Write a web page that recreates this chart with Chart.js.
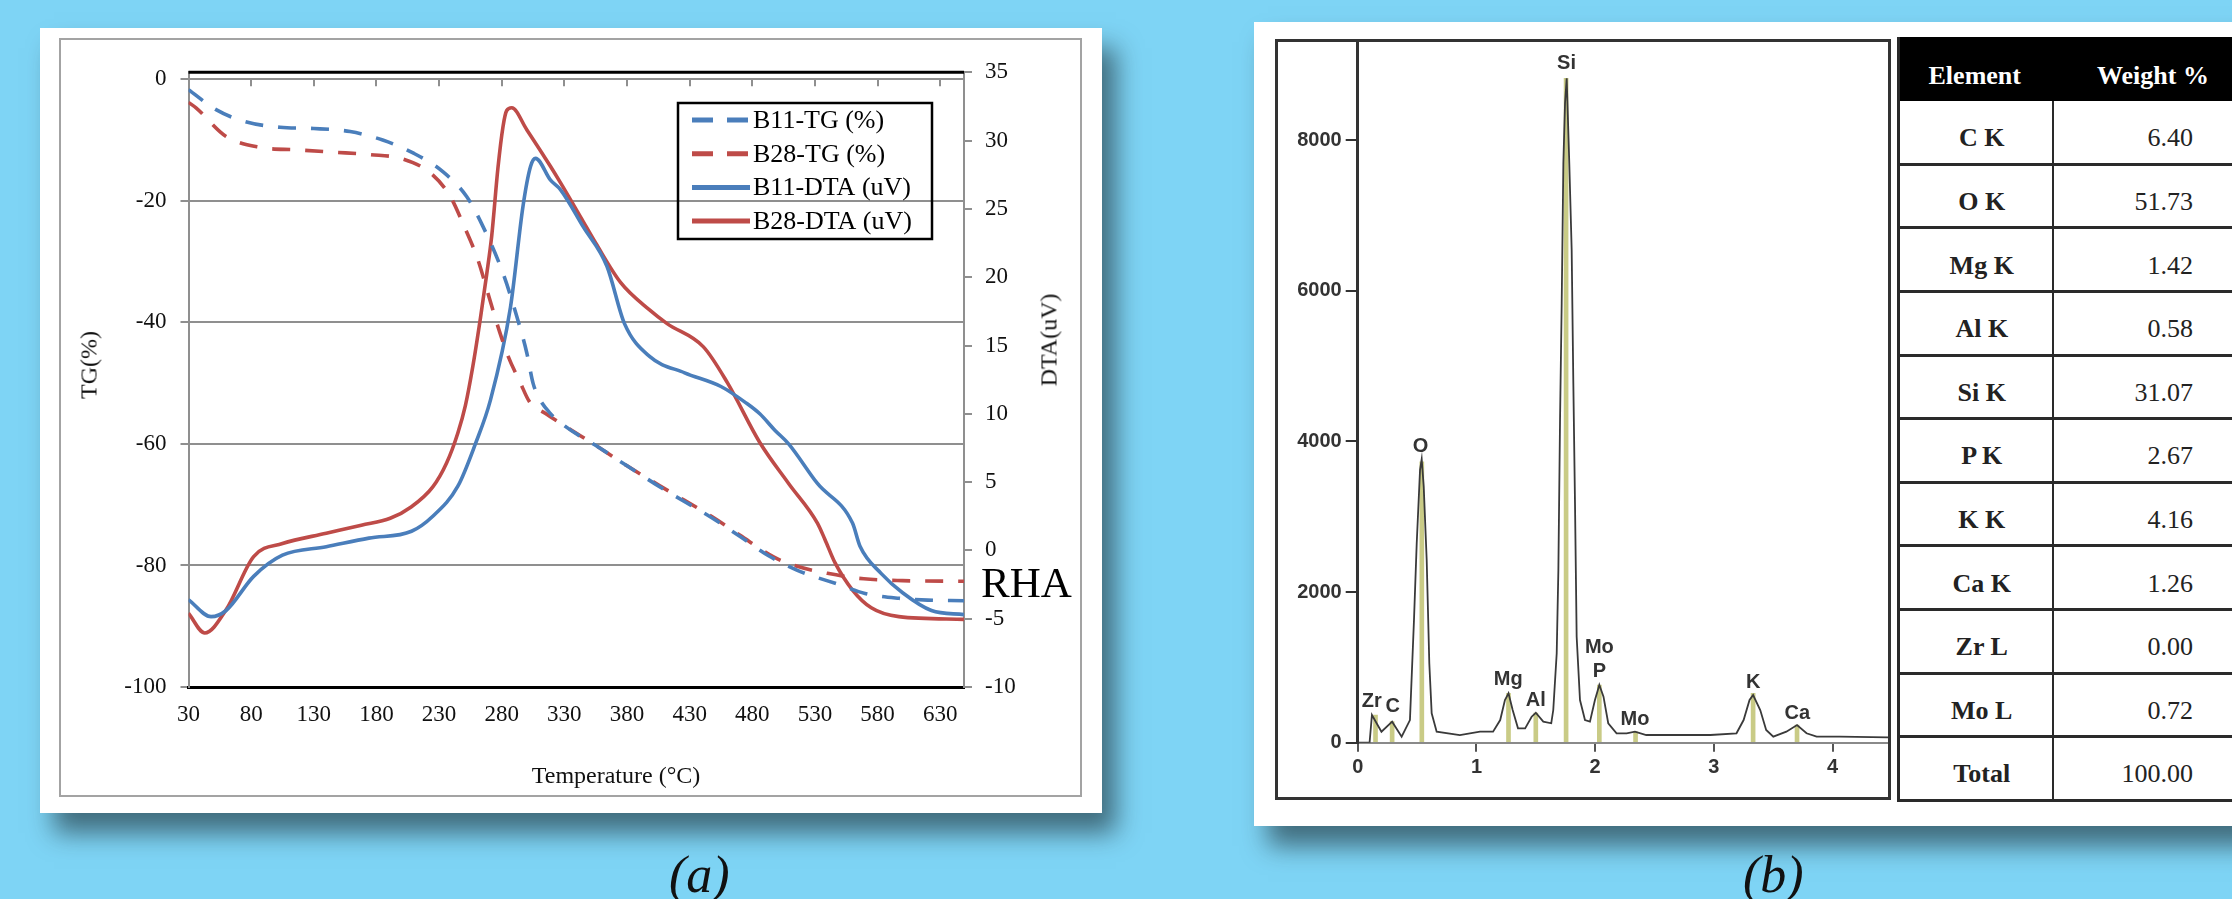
<!DOCTYPE html>
<html><head><meta charset="utf-8">
<script src="https://cdn.jsdelivr.net/npm/chart.js@4.4.1/dist/chart.umd.min.js"></script>
<style>
html,body{margin:0;padding:0;width:2232px;height:899px;overflow:hidden;background:#7ed4f5;}
.abs{position:absolute;}
#panelA{left:40px;top:28px;width:1062px;height:785px;background:#fff;box-shadow:14px 20px 24px rgba(60,100,115,0.92);}
#frameA{left:59px;top:38px;width:1019px;height:755px;border:2px solid #a3a3a3;background:#fff;}
#cA{left:61px;top:40px;}
#panelB{left:1254px;top:22px;width:1040px;height:804px;background:#fff;box-shadow:14px 20px 24px rgba(60,100,115,0.92);}
#frameB{left:1275px;top:39px;width:610px;height:755px;border:3px solid #333;background:#fff;}
#cB{left:1278px;top:42px;}
.serif{font-family:'Liberation Serif','Times New Roman',serif;color:#111;white-space:nowrap;}
.rot{transform:translate(-50%,-50%) rotate(-90deg);}
.ctr{transform:translate(-50%,-50%);}
.cap{font-style:italic;font-size:52px;line-height:52px;color:#111;}
.cell{position:absolute;display:flex;align-items:center;box-sizing:border-box;padding-top:12px;font-family:'Liberation Serif','Times New Roman',serif;font-size:26px;color:#222;white-space:nowrap;}
.hl{position:absolute;background:#2a2a2a;}
</style>
</head><body>
<div id="panelA" class="abs"></div>
<div id="frameA" class="abs"></div>
<canvas id="cA" class="abs" width="1019" height="755"></canvas>
<div class="abs serif rot" style="left:89px;top:365px;font-size:24px;">TG(%)</div>
<div class="abs serif rot" style="left:1049px;top:340px;font-size:24px;">DTA(uV)</div>
<div class="abs serif ctr" style="left:616px;top:775px;font-size:24px;">Temperature (°C)</div>
<div class="abs serif" style="left:981px;top:561px;font-size:43px;line-height:43px;color:#000;">RHA</div>
<div class="abs serif cap" style="left:669px;top:849px;">(a)</div>

<div id="panelB" class="abs"></div>
<div id="frameB" class="abs"></div>
<canvas id="cB" class="abs" width="610" height="755"></canvas>
<div id="tbl" class="abs" style="left:0;top:0;"></div>
<div class="abs serif cap" style="left:1743px;top:849px;">(b)</div>

<script>
// ---------------- (a) TG / DTA data ----------------
const tempTicks = [30,80,130,180,230,280,330,380,430,480,530,580,630];
const tgTicks = [-100,-80,-60,-40,-20,0];
const dtaTicks = [-10,-5,0,5,10,15,20,25,30,35];

const b11TgT = [30,52,74,103,130,159,185,210,233,252,265,281,292,300,305,310,318,330,357,380,408,448,470,493,516,550,570,597,620,649];
const b11TgV = [-1.7,-5,-6.9,-7.9,-8.1,-8.6,-10,-12.2,-15.2,-19.3,-24.2,-31.9,-39,-45,-50,-52.5,-54.8,-57,-60.5,-63.6,-67.3,-72.2,-75.2,-78.4,-80.8,-83.2,-84.6,-85.4,-85.7,-85.8];

const b28TgT = [30,36,60,87,116,146,175,201,223,239,249,261,269,277,285,295,302,315,330,357,380,412,448,470,497,512,540,569,600,649];
const b28TgV = [-3.8,-4.7,-9.4,-11.2,-11.6,-12,-12.4,-13.1,-15.4,-19.3,-23.7,-29.7,-35.2,-40.7,-45.5,-50,-53,-55,-57,-60.5,-63.6,-67.6,-72,-75,-78.6,-79.9,-81.3,-82.2,-82.5,-82.6];

const b11DtaT = [30,48,60,82,105,140,174,208,225,245,259,271,287,297,303,307,319,327,345,364,378,398,426,455,475,486,498,509,532,560,566,583,600,623,649];
const b11DtaV = [-3.6,-4.85,-4.4,-1.9,-0.35,0.27,0.9,1.4,2.5,4.7,7.8,11.0,17.8,25.2,28.1,28.7,27.1,26.4,23.7,20.8,16.6,14.2,13.0,12.0,10.8,10.0,8.8,7.8,4.9,2.0,0.3,-1.7,-3.1,-4.4,-4.7];

const b28DtaT = [30,43,60,82,105,140,168,191,208,225,236,245,251,257,263,268,272,277,281,284,288,300,319,327,343,355,375,398,412,441,460,486,509,532,538,546,560,575,597,649];
const b28DtaV = [-4.6,-6.05,-4.35,-0.45,0.5,1.25,1.85,2.35,3.2,4.65,6.4,8.6,10.6,13.5,17.0,20.2,23.0,28.0,31.0,32.2,32.4,30.8,28.1,26.9,24.4,22.5,19.6,17.6,16.6,14.9,12.3,7.9,4.9,2.0,0.8,-0.9,-2.9,-4.2,-4.85,-5.05];

const seriesLabels = ['B11-TG (%)','B28-TG (%)','B11-DTA (uV)','B28-DTA (uV)'];

// ---------------- (b) EDS data ----------------
const specE = [0,0.10,0.12,0.20,0.29,0.37,0.44,0.474,0.497,0.525,0.539,0.556,0.581,0.603,0.623,0.665,0.86,1.03,1.14,1.20,1.24,1.27,1.305,1.35,1.41,1.465,1.50,1.563,1.63,1.647,1.676,1.69,1.704,1.718,1.732,1.746,1.76,1.782,1.802,1.816,1.83,1.844,1.872,1.914,1.956,1.998,2.035,2.07,2.11,2.18,2.265,2.335,2.43,2.69,2.97,3.19,3.25,3.30,3.33,3.39,3.44,3.50,3.61,3.70,3.78,3.865,4.06,4.466];
const specC = [0,0,368,146,279,80,301,1630,2648,3622,3764,3400,2426,1054,390,146,102,146,146,301,567,656,434,191,191,345,398,279,258,434,1187,2293,4285,5835,7694,8491,8823,7694,6543,4773,3180,1408,567,301,279,567,766,611,258,125,125,146,102,102,102,125,301,567,633,434,169,80,146,235,125,80,80,72];

const markE = [0.15,0.29,0.54,1.27,1.50,1.755,2.035,2.34,3.33,3.70];
const markC = [368,279,3730,656,394,8823,766,146,656,235];

const peakNames = ['Si','O','Zr','C','Mg','Al','Mo','P','Mo','K','Ca'];
const peakE = [1.759,0.53,0.118,0.295,1.268,1.50,2.035,2.035,2.335,3.331,3.702];
const peakC = [9023,3940,545,478,833,567,1262,943,311,797,390];

const xTicksB = [0,1,2,3,4];
const yTicksB = [0,2000,4000,6000,8000];

const elements = ['C K','O K','Mg K','Al K','Si K','P K','K K','Ca K','Zr L','Mo L','Total'];
const weights = ['6.40','51.73','1.42','0.58','31.07','2.67','4.16','1.26','0.00','0.72','100.00'];
const tableHead = ['Element','Weight %'];

// ---------------- helpers ----------------
const zip = (xs, ys) => xs.map((x, i) => ({x: x, y: ys[i]}));
const BLUE = '#4a7ebb', RED = '#be4b48', GRID = '#8f8f8f';
const SERIF = "'Liberation Serif','Times New Roman',serif";
const SANS = "'Liberation Sans', Arial, sans-serif";

// ---------------- chart (a) ----------------
const decorA = {
  id: 'decorA',
  beforeDatasetsDraw(chart) {
    const {ctx, chartArea, scales} = chart;
    ctx.save();
    ctx.strokeStyle = '#000'; ctx.lineWidth = 3;
    ctx.beginPath(); ctx.moveTo(chartArea.left, chartArea.top); ctx.lineTo(chartArea.right, chartArea.top); ctx.stroke();
    const y0 = scales.y.getPixelForValue(0);
    ctx.strokeStyle = GRID; ctx.lineWidth = 2;
    tempTicks.forEach(t => {
      const x = Math.round(scales.x.getPixelForValue(t));
      ctx.beginPath(); ctx.moveTo(x, y0); ctx.lineTo(x, y0 + 7); ctx.stroke();
    });
    ctx.restore();
  },
  afterDraw(chart) {
    const ctx = chart.ctx;
    ctx.save();
    ctx.strokeStyle = '#000'; ctx.lineWidth = 2.5;
    ctx.strokeRect(617, 63, 254, 136);
    chart.data.datasets.forEach((ds, i) => {
      const y = 80 + i * 33.7;
      ctx.beginPath();
      ctx.setLineDash(ds.borderDash && ds.borderDash.length ? [21, 14] : []);
      ctx.lineWidth = 5; ctx.strokeStyle = ds.borderColor; ctx.lineCap = 'butt';
      ctx.moveTo(631, y); ctx.lineTo(689, y); ctx.stroke();
      ctx.setLineDash([]);
      ctx.fillStyle = '#000'; ctx.font = "26px " + SERIF; ctx.textBaseline = 'middle'; ctx.textAlign = 'left';
      ctx.fillText(ds.label, 692, y + 1);
    });
    ctx.restore();
  }
};

const lineStyle = (color, dashed) => ({
  borderColor: color, backgroundColor: color, borderWidth: 3.6, pointRadius: 0,
  borderDash: dashed ? [18, 15] : [], borderCapStyle: 'butt',
  cubicInterpolationMode: 'monotone', fill: false
});

new Chart(document.getElementById('cA'), {
  type: 'line',
  data: {
    datasets: [
      Object.assign({label: seriesLabels[0], data: zip(b11TgT, b11TgV), yAxisID: 'y'}, lineStyle(BLUE, true)),
      Object.assign({label: seriesLabels[1], data: zip(b28TgT, b28TgV), yAxisID: 'y'}, lineStyle(RED, true)),
      Object.assign({label: seriesLabels[2], data: zip(b11DtaT, b11DtaV), yAxisID: 'y2'}, lineStyle(BLUE, false)),
      Object.assign({label: seriesLabels[3], data: zip(b28DtaT, b28DtaV), yAxisID: 'y2'}, lineStyle(RED, false))
    ]
  },
  options: {
    animation: false, responsive: false, events: [],
    layout: {padding: {top: 32.3, left: 0, right: 0, bottom: 0}},
    plugins: {legend: {display: false}, tooltip: {enabled: false}},
    scales: {
      x: {
        type: 'linear', min: 30, max: 649, position: 'bottom',
        afterBuildTicks(s) { s.ticks = tempTicks.map(v => ({value: v})); },
        afterFit(s) { s.height = 108; s.paddingLeft = 0; s.paddingRight = 0; },
        grid: {display: false, drawTicks: false},
        border: {display: true, color: '#000', width: 3},
        ticks: {font: {family: SERIF, size: 23}, color: '#111', padding: 14, maxRotation: 0, autoSkip: false}
      },
      y: {
        type: 'linear', min: -100, max: 1.15, position: 'left',
        afterBuildTicks(s) { s.ticks = tgTicks.map(v => ({value: v})); },
        afterFit(s) { s.width = 127.5; s.paddingTop = 0; s.paddingBottom = 0; },
        grid: {color: ctx => (ctx.tick && ctx.tick.value === -100) ? 'rgba(0,0,0,0)' : GRID, tickColor: GRID, lineWidth: 2, tickLength: 8},
        border: {display: true, color: GRID, width: 2},
        ticks: {font: {family: SERIF, size: 23}, color: '#111', padding: 14, callback: v => String(v)}
      },
      y2: {
        type: 'linear', min: -10, max: 35, position: 'right',
        afterBuildTicks(s) { s.ticks = dtaTicks.map(v => ({value: v})); },
        afterFit(s) { s.width = 116; s.paddingTop = 0; s.paddingBottom = 0; },
        grid: {drawOnChartArea: false, color: GRID, tickColor: GRID, lineWidth: 2, tickLength: 8},
        border: {display: true, color: GRID, width: 2},
        ticks: {font: {family: SERIF, size: 23}, color: '#111', padding: 13, callback: v => String(v)}
      }
    }
  },
  plugins: [decorA]
});

// ---------------- chart (b) ----------------
const peakLabelsB = {
  id: 'peakLabelsB',
  afterDatasetsDraw(chart) {
    const {ctx, scales} = chart;
    ctx.save();
    ctx.font = "bold 20px " + SANS;
    ctx.fillStyle = '#333'; ctx.textAlign = 'center'; ctx.textBaseline = 'middle';
    peakNames.forEach((n, i) => {
      ctx.fillText(n, scales.x.getPixelForValue(peakE[i]), scales.y.getPixelForValue(peakC[i]));
    });
    ctx.restore();
  }
};

new Chart(document.getElementById('cB'), {
  type: 'line',
  data: {
    datasets: [
      {type: 'line', data: zip(specE, specC), borderColor: '#3a3a3a', borderWidth: 1.8, pointRadius: 0, tension: 0, fill: false, order: 0},
      {type: 'bar', data: zip(markE, markC), backgroundColor: '#c9cb86', borderWidth: 0, barThickness: 4, order: 1}
    ]
  },
  options: {
    animation: false, responsive: false, events: [],
    layout: {padding: 0},
    plugins: {legend: {display: false}, tooltip: {enabled: false}},
    scales: {
      x: {
        type: 'linear', min: 0, max: 4.466, offset: false,
        afterBuildTicks(s) { s.ticks = xTicksB.map(v => ({value: v})); },
        afterFit(s) { s.height = 54.3; s.paddingLeft = 0; s.paddingRight = 0; },
        grid: {display: true, drawOnChartArea: false, drawTicks: true, tickLength: 9, color: '#555', lineWidth: 2, offset: false},
        border: {display: true, color: '#8a8a8a', width: 2},
        ticks: {font: {family: SANS, size: 20, weight: 'bold'}, color: '#333', padding: 4, maxRotation: 0, autoSkip: false, callback: v => String(v)}
      },
      y: {
        type: 'linear', min: 0, max: 9305,
        afterBuildTicks(s) { s.ticks = yTicksB.map(v => ({value: v})); },
        afterFit(s) { s.width = 79.7; s.paddingTop = 0; s.paddingBottom = 0; },
        grid: {drawOnChartArea: false, drawTicks: true, tickLength: 12, color: '#333', lineWidth: 2},
        border: {display: true, color: '#333', width: 3},
        ticks: {font: {family: SANS, size: 20, weight: 'bold'}, color: '#333', padding: 4, callback: v => String(v)}
      }
    }
  },
  plugins: [peakLabelsB]
});

// ---------------- table ----------------
(function buildTable() {
  const t = document.getElementById('tbl');
  const L = 1896.5, M = 2053, R = 2253, T0 = 36.7, H = 63.6;
  const add = (html) => { t.insertAdjacentHTML('beforeend', html); };
  add(`<div class="hl" style="left:${L}px;top:${T0}px;width:${R-L}px;height:64px;background:#000"></div>`);
  add(`<div class="cell" style="left:${L}px;top:${T0}px;width:${M-L}px;height:64px;justify-content:center;color:#fff;font-weight:bold;padding-top:14px">${tableHead[0]}</div>`);
  add(`<div class="cell" style="left:${M}px;top:${T0}px;width:${R-M}px;height:64px;justify-content:center;color:#fff;font-weight:bold;padding-top:14px">${tableHead[1]}</div>`);
  const top1 = T0 + 64;
  elements.forEach((el, i) => {
    const y = top1 + i * H;
    add(`<div class="cell" style="left:${L}px;top:${y}px;width:${M-L}px;height:${H}px;justify-content:center;font-weight:bold;padding-left:14px">${el}</div>`);
    add(`<div class="cell" style="left:${M}px;top:${y}px;width:${R-M}px;height:${H}px;justify-content:flex-end;padding-right:60px">${weights[i]}</div>`);
    if (i > 0) add(`<div class="hl" style="left:${L}px;top:${y-1.5}px;width:${R-L}px;height:3px"></div>`);
  });
  const bottom = top1 + elements.length * H;
  add(`<div class="hl" style="left:${L}px;top:${bottom-1.5}px;width:${R-L}px;height:3px"></div>`);
  add(`<div class="hl" style="left:${L}px;top:${T0}px;width:3px;height:${bottom-T0+1.5}px"></div>`);
  add(`<div class="hl" style="left:${M-1}px;top:${top1}px;width:2px;height:${bottom-top1}px"></div>`);
})();
</script>
</body></html>
